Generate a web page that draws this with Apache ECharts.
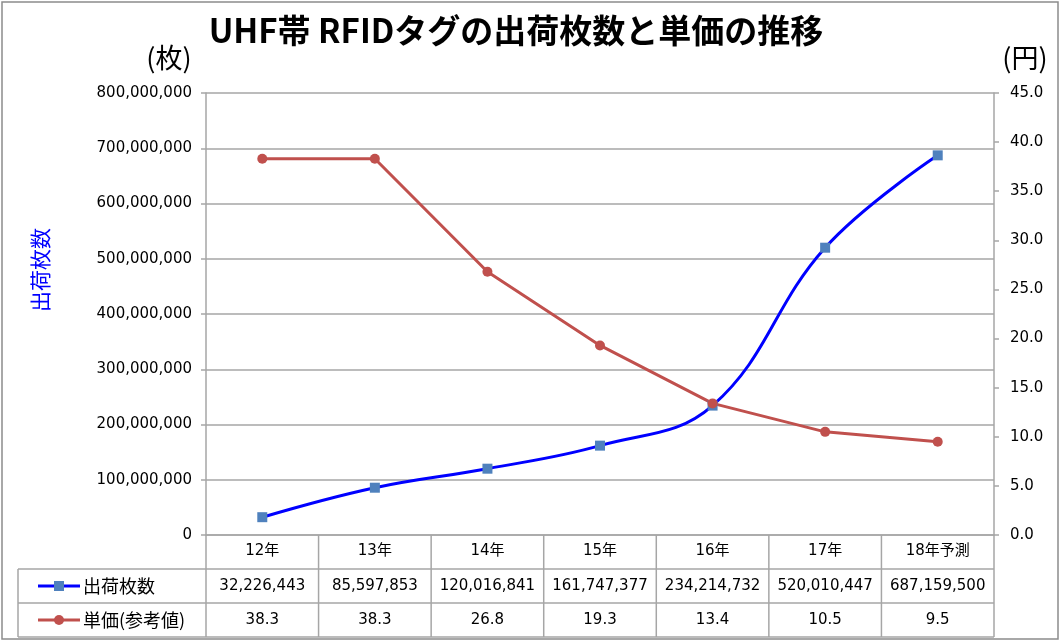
<!DOCTYPE html>
<html>
<head>
<meta charset="utf-8">
<script src="https://cdn.jsdelivr.net/npm/echarts@6/dist/echarts.min.js"></script>
<style>
  html, body { margin: 0; padding: 0; background: #fff; }
  #main { width: 1062px; height: 642px; }
</style>
</head>
<body>
<div id="main"></div>
<script>
// data
const categories = ["12年", "13年", "14年", "15年", "16年", "17年", "18年予測"];
const shipments = [32226443, 85597853, 120016841, 161747377, 234214732, 520010447, 687159500];
const unitPrices = [38.3, 38.3, 26.8, 19.3, 13.4, 10.5, 9.5];
const seriesNames = ["出荷枚数", "単価(参考値)"];

const font = "'Noto Sans CJK JP', 'Noto Sans', sans-serif";
const numFont = "'DejaVu Sans', 'Noto Sans CJK JP', sans-serif";
const blue = "#0000ff";
const blueMark = "#4f81bd";
const red = "#c0504d";
const gridColor = "#a6a6a6";

const gLeft = 206, gRight = 994, gTop = 93, gBottom = 535;
const rowH = 34;

let chart = echarts.init(document.getElementById("main"));

function fmt(v) {
  return String(v).replace(/\B(?=(\d{3})+(?!\d))/g, ",");
}

chart.setOption({
  animation: false,
  textStyle: { fontFamily: font },
  grid: { left: gLeft, right: 1062 - gRight, top: gTop, bottom: 642 - gBottom },
  xAxis: {
    type: "category",
    data: categories,
    boundaryGap: true,
    axisLine: { lineStyle: { color: gridColor, width: 1.5 } },
    axisTick: { show: false },
    axisLabel: { color: "#000", fontSize: 15, margin: 9, fontFamily: numFont, interval: 0 }
  },
  yAxis: [
    {
      type: "value",
      min: 0, max: 800000000, interval: 100000000,
      axisLine: { show: true, lineStyle: { color: gridColor, width: 1.5 } },
      axisTick: { show: true, length: 5, lineStyle: { color: gridColor, width: 1.5 } },
      splitLine: { lineStyle: { color: gridColor, width: 1.5 } },
      axisLabel: { color: "#000", fontSize: 15, margin: 14, fontFamily: numFont, formatter: v => fmt(v) }
    },
    {
      type: "value",
      min: 0, max: 45, interval: 5,
      axisLine: { show: true, lineStyle: { color: gridColor, width: 1.5 } },
      axisTick: { show: true, length: 5, lineStyle: { color: gridColor, width: 1.5 } },
      splitLine: { show: false },
      axisLabel: { color: "#000", fontSize: 15, margin: 16, fontFamily: numFont, formatter: v => v.toFixed(1) }
    }
  ],
  series: [
    {
      name: seriesNames[0],
      type: "line",
      yAxisIndex: 0,
      data: shipments,
      smooth: 0.4,
      symbol: "rect",
      symbolSize: 10,
      lineStyle: { color: blue, width: 3 },
      itemStyle: { color: blueMark }
    },
    {
      name: seriesNames[1],
      type: "line",
      yAxisIndex: 1,
      data: unitPrices,
      symbol: "circle",
      symbolSize: 10,
      lineStyle: { color: red, width: 3 },
      itemStyle: { color: red }
    }
  ]
});

// data table + titles
const centers = categories.map((c, i) => chart.convertToPixel({ xAxisIndex: 0 }, i));
const step = (gRight - gLeft) / categories.length;
const els = [];

els.push({ type: "rect", shape: { x: 2, y: 2, width: 1056, height: 637 },
  style: { fill: "none", stroke: "#8c8c8c", lineWidth: 1.5 }, z: 0 });
els.push({ type: "text", x: 516, y: 30, style: { text: "UHF帯 RFIDタグの出荷枚数と単価の推移",
  font: "bold 33px " + font, fill: "#000", align: "center", verticalAlign: "middle" } });
els.push({ type: "text", x: 169, y: 58, style: { text: "(枚)",
  font: "27px " + font, fill: "#000", align: "center", verticalAlign: "middle" } });
els.push({ type: "text", x: 1025, y: 58, style: { text: "(円)",
  font: "27px " + font, fill: "#000", align: "center", verticalAlign: "middle" } });
els.push({ type: "text", x: 40, y: 270, rotation: Math.PI / 2, style: { text: "出荷枚数",
  font: "21px " + font, fill: blue, align: "center", verticalAlign: "middle" } });

const tableLeft = 18;
const line = (x1, y1, x2, y2) => ({ type: "line", shape: { x1, y1, x2, y2 },
  style: { stroke: gridColor, lineWidth: 1.5 } });

// horizontal lines
els.push(line(tableLeft, gBottom + rowH, gRight, gBottom + rowH));
els.push(line(tableLeft, gBottom + rowH * 2, gRight, gBottom + rowH * 2));
els.push(line(tableLeft, gBottom + rowH * 3, gRight, gBottom + rowH * 3));
// vertical lines
els.push(line(tableLeft, gBottom + rowH, tableLeft, gBottom + rowH * 3));
for (let i = 0; i <= categories.length; i++) {
  const x = gLeft + step * i;
  els.push(line(x, gBottom, x, gBottom + rowH * 3));
}

const rows = [shipments.map(fmt), unitPrices.map(v => v.toFixed(1))];
rows.forEach((r, ri) => {
  const cy = gBottom + rowH * (ri + 1) + rowH / 2;
  r.forEach((t, i) => {
    els.push({ type: "text", x: centers[i], y: cy, style: { text: t,
      font: "15px " + numFont, fill: "#000", align: "center", verticalAlign: "middle" } });
  });
  els.push({ type: "text", x: 83, y: cy, style: { text: seriesNames[ri],
    font: "18px " + font, fill: "#000", align: "left", verticalAlign: "middle" } });
  const col = ri === 0 ? blue : red;
  els.push({ type: "line", shape: { x1: 38, y1: cy, x2: 80, y2: cy }, style: { stroke: col, lineWidth: 3 } });
  if (ri === 0) {
    els.push({ type: "rect", shape: { x: 54, y: cy - 5, width: 10, height: 10 }, style: { fill: blueMark } });
  } else {
    els.push({ type: "circle", shape: { cx: 59, cy: cy, r: 5 }, style: { fill: red } });
  }
});

chart.setOption({ graphic: els });
</script>
</body>
</html>
